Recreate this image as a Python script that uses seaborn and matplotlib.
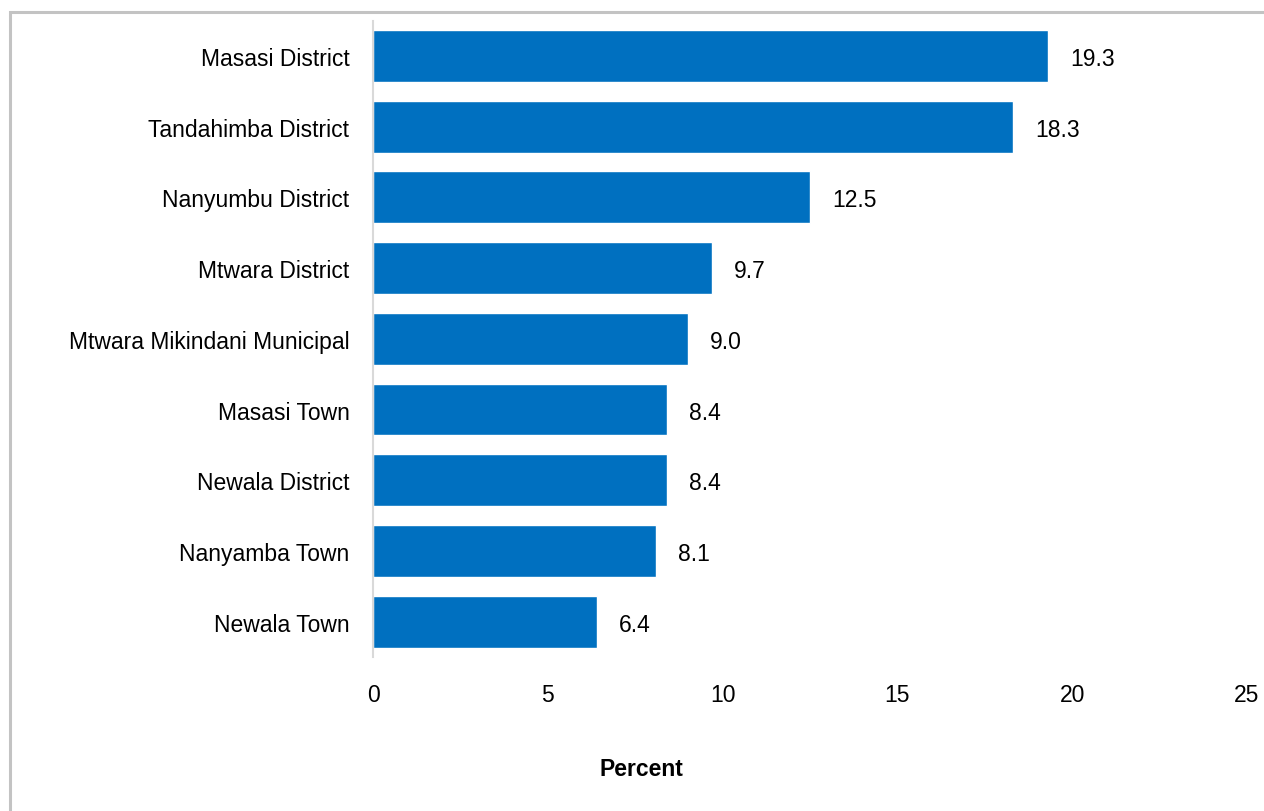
import matplotlib
matplotlib.use("Agg")
import matplotlib.pyplot as plt
import seaborn as sns
import pandas as pd
from matplotlib.patches import Rectangle

districts = ['Masasi District', 'Tandahimba District', 'Nanyumbu District',
             'Mtwara District', 'Mtwara Mikindani Municipal', 'Masasi Town',
             'Newala District', 'Nanyamba Town', 'Newala Town']
percent = [19.3, 18.3, 12.5, 9.7, 9.0, 8.4, 8.4, 8.1, 6.4]
xticks = [0, 5, 10, 15, 20, 25]

df = pd.DataFrame({'District': districts, 'Percent': percent})

sns.set_style('white')
plt.rcParams['font.family'] = ['Liberation Sans Narrow', 'Liberation Sans', 'DejaVu Sans']
plt.rcParams['text.color'] = 'black'
plt.rcParams['xtick.color'] = 'black'
plt.rcParams['ytick.color'] = 'black'
fs = 16.5

fig = plt.figure(figsize=(12.64, 8.12), dpi=100)
ax = fig.add_axes([373 / 1264, 1 - 658 / 812, 874 / 1264, (658 - 21.6) / 812])

sns.barplot(data=df, x='Percent', y='District', orient='h', color='#0070C0',
            saturation=1, width=0.735, ax=ax)

for i, v in enumerate(percent):
    ax.text(v + 0.63, i, f'{v:.1f}', va='center_baseline', ha='left', fontsize=fs, color='black')

ax.set_xlim(0, 25)
ax.set_ylim(8.5, -0.5)
ax.set_xticks(xticks)
ax.set_xticklabels([str(t) for t in xticks], fontsize=fs)
ax.tick_params(axis='x', length=0, pad=19)
ax.tick_params(axis='y', length=0, pad=17, labelsize=fs)
ax.set_xlabel('')
ax.set_ylabel('')
for s in ['top', 'right', 'bottom']:
    ax.spines[s].set_visible(False)
ax.spines['left'].set_color('#d9d9d9')
ax.spines['left'].set_linewidth(1.5)

fig.text(641 / 1264, 1 - 770 / 812, 'Percent', ha='center', va='center',
         fontsize=fs, fontweight='bold')

# grey frame, right and bottom edges fall outside the picture
fig.patches.append(Rectangle((9.5 / 1264, -0.05), 1.1, 1 - 13 / 812 + 0.05,
                             transform=fig.transFigure, fill=False,
                             edgecolor='#c3c3c3', linewidth=2.2))

fig.savefig('out.png', dpi=100)
